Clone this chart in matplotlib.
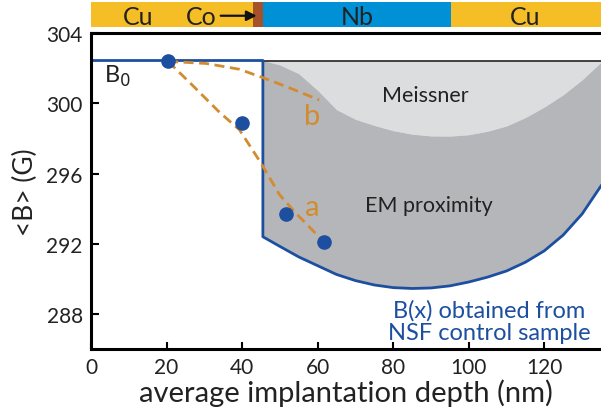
import matplotlib

matplotlib.use("Agg")
import matplotlib.pyplot as plt

plt.rcParams["font.family"] = ["Lato", "DejaVu Sans"]

# measured <B> (G) vs average implantation depth (nm)
DEPTH = [20.4, 39.9, 51.5, 61.7]
B_MEAN = [302.4, 298.9, 293.7, 292.1]

B0 = 302.45
NB_START = 45.5

# B(x) from NSF control sample, inside the Nb layer
NB_X = [45.5, 50, 55, 60, 65, 70, 75, 80, 85, 90, 95, 100, 105, 110, 115, 120, 125, 130, 135]
B_NSF = [292.4, 291.85, 291.25, 290.75, 290.25, 289.9, 289.65, 289.5, 289.45, 289.48, 289.6,
         289.82, 290.1, 290.45, 290.95, 291.6, 292.5, 293.7, 295.3]
B_MEISSNER = [302.45, 302.2, 301.7, 300.75, 299.65, 299.1, 298.75, 298.45, 298.25, 298.15, 298.14,
              298.22, 298.42, 298.72, 299.2, 299.8, 300.5, 301.35, 302.35]

# dashed guide curves
A_X = [20.4, 26.1, 34.0, 39.3, 45.0, 49.9, 54.2, 61.7]
A_Y = [302.4, 301.2, 299.5, 298.5, 296.6, 294.8, 293.75, 292.1]
B_X = [20.4, 30.5, 39.3, 46.4, 53.0, 60.4]
B_Y = [302.4, 302.28, 301.95, 301.4, 300.85, 300.2]

# layer stack (nm)
LAYER_NAMES = ["Cu", "", "Nb", "Cu"]
LAYER_EDGES = [0, 42.8, 45.5, 95.3, 140]
LAYER_COLORS = ["#F6BE26", "#A5522A", "#0090D6", "#F6BE26"]
LAYER_LABEL_X = [12.6, None, 70.5, 114.8]

XMAX = 135
BLUE = "#1D4FA0"
ORANGE = "#D38B2E"
INK = "#222222"

fig = plt.figure(figsize=(6.01, 4.14), dpi=100)
ax = fig.add_axes([0.1514, 0.1546, 0.8486, 0.7625])
bar = fig.add_axes([0.1514, 0.9324, 0.8486, 0.0604])

# layer bar
for i, name in enumerate(LAYER_NAMES):
  bar.axvspan(LAYER_EDGES[i], LAYER_EDGES[i + 1], color=LAYER_COLORS[i], lw=0)
  if name:
    bar.text(LAYER_LABEL_X[i], 0.42, name, ha="center", va="center", fontsize=18, color=INK)
bar.text(29.3, 0.42, "Co", ha="center", va="center", fontsize=18, color=INK)
bar.annotate("", xy=(44.6, 0.45), xytext=(33.6, 0.45),
             arrowprops=dict(arrowstyle="-|>", color="#111111", lw=1.6, mutation_scale=15))
bar.set_xlim(0, XMAX)
bar.set_ylim(0, 1)
bar.axis("off")

# shaded regions
ax.fill_between(NB_X, B_MEISSNER, [B0] * len(NB_X), color="#DCDDDF", lw=0)
ax.fill_between(NB_X, B_NSF, B_MEISSNER, color="#B5B6B9", lw=0)
ax.plot([NB_START, XMAX], [B0, B0], color="#333333", lw=1.3)
ax.plot([0, NB_START] + NB_X, [B0, B0] + B_NSF, color=BLUE, lw=2)

ax.plot(A_X, A_Y, color=ORANGE, lw=2, dashes=(3.6, 2))
ax.plot(B_X, B_Y, color=ORANGE, lw=2, dashes=(3.6, 2))
ax.plot(DEPTH, B_MEAN, "o", color=BLUE, ms=9.5, zorder=5)

ax.text(58.5, 294.1, "a", color=ORANGE, fontsize=21, ha="center", va="center")
ax.text(58.5, 299.3, "b", color=ORANGE, fontsize=21, ha="center", va="center")
ax.text(3.5, 301.6, "B$_0$", fontsize=17, ha="left", va="center", color=INK)
ax.text(88.4, 300.5, "Meissner", fontsize=15.5, ha="center", va="center", color=INK)
ax.text(89.4, 294.2, "EM proximity", fontsize=15.5, ha="center", va="center", color=INK)
ax.text(105.5, 287.6, "B(x) obtained from\nNSF control sample", fontsize=17, ha="center",
        va="center", color=BLUE, linespacing=1.05)

ax.set_xlim(0, XMAX)
ax.set_ylim(286, 304)
ax.set_xticks([0, 20, 40, 60, 80, 100, 120])
ax.set_yticks([288, 292, 296, 300, 304])
ax.tick_params(axis="x", direction="in", length=5, width=1.5, labelsize=15, pad=6,
               labelcolor=INK)
ax.tick_params(axis="y", direction="in", length=6, width=1.5, labelsize=15, pad=6,
               labelcolor=INK)
for side in ("left", "bottom", "top"):
  ax.spines[side].set_linewidth(2.2)
ax.spines["right"].set_visible(False)
ax.set_xlabel("average implantation depth (nm)", fontsize=21, labelpad=1, color=INK)
ax.set_ylabel("<B> (G)", fontsize=19, labelpad=6, color=INK)

fig.savefig("out.png", dpi=100)
